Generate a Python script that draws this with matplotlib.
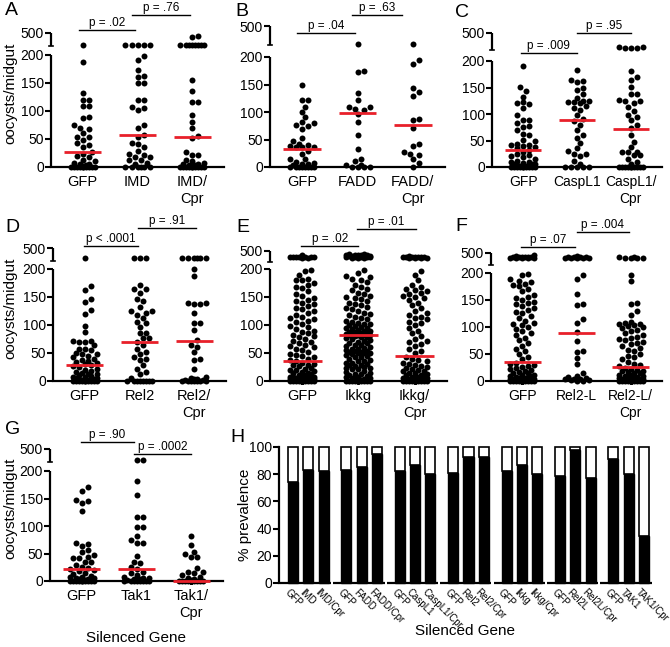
import matplotlib
matplotlib.use('Agg')
import matplotlib.pyplot as plt
import numpy as np

plt.rcParams['font.family'] = ['Liberation Sans', 'DejaVu Sans']

# ---------------- data (oocysts per midgut) ----------------
A_gfp = [230, 188, 132, 120, 120, 109, 109, 90, 88, 75, 70, 68, 60, 54, 54, 48, 42, 39, 36, 27,
         24, 20, 18, 13, 10, 8, 6, 5, 3, 2, 0, 0, 0, 0, 0, 0, 0, 0, 0, 0]
A_imd = [225, 230, 220, 228, 232, 199, 191, 174, 162, 161, 150, 150, 120, 119, 108, 106, 101, 75, 69,
         58, 54, 42, 41, 36, 28, 24, 21, 18, 18, 13, 12, 8, 5, 0, 0, 0, 0, 0, 0]
A_imdcpr = [230, 228, 232, 226, 234, 230, 229, 231, 420, 430, 155, 136, 116, 116, 92, 80, 69, 55, 52,
            27, 22, 22, 12, 10, 8, 6, 5, 4, 3, 2, 0, 0, 0, 0, 0, 0, 0, 0, 0, 0]

B_gfp = [150, 121, 121, 110, 100, 91, 82, 80, 76, 75, 70, 52, 48, 42, 40, 39, 37, 36, 36, 30, 24,
         15, 15, 10, 7, 6, 5, 3, 0, 0, 0, 0, 0, 0, 0, 0]
B_fadd = [205, 174, 172, 135, 122, 110, 109, 106, 103, 97, 82, 58, 33, 15, 11, 4, 4, 0, 0, 0, 0]
B_faddcpr = [215, 195, 188, 144, 136, 129, 88, 85, 71, 41, 38, 27, 24, 22, 15, 8, 0]

C_gfp = [190, 151, 143, 133, 122, 120, 119, 111, 98, 89, 89, 83, 77, 76, 70, 62, 60, 51, 50, 43, 41,
         41, 40, 38, 36, 33, 29, 25, 22, 20, 18, 15, 12, 10, 9, 8, 6, 5, 5, 4, 3, 2, 2, 1,
         0, 0, 0, 0, 0, 0, 0, 0, 0, 0]
C_casp = [183, 165, 163, 160, 149, 145, 137, 130, 125, 124, 123, 122, 120, 116, 111, 108, 98, 90, 86,
          80, 70, 60, 55, 45, 35, 30, 25, 25, 20, 12, 5, 0, 0, 0, 0, 0]
C_caspcpr = [240, 245, 240, 235, 250, 181, 170, 165, 151, 138, 137, 127, 124, 124, 120, 114, 105, 98,
             95, 88, 80, 73, 60, 48, 38, 29, 29, 28, 22, 22, 15, 10, 5, 0, 0, 0, 0, 0, 0, 0, 0, 0, 0]

D_gfp = [260, 170, 163, 147, 141, 127, 119, 99, 88, 71, 71, 70, 69, 64, 58, 58, 55, 50, 49, 49, 45,
         43, 40, 38, 36, 34, 32, 30, 28, 26, 25, 22, 20, 18, 16, 15, 13, 12, 10, 9, 8, 7, 6, 5, 4,
         3, 2, 2, 1, 1, 0, 0, 0, 0, 0, 0, 0, 0, 0, 0]
D_rel2 = [260, 265, 270, 172, 165, 165, 157, 147, 142, 133, 125, 125, 121, 118, 112, 106, 103, 97,
          85, 85, 76, 76, 70, 64, 58, 52, 49, 43, 39, 37, 28, 22, 16, 12, 5, 0, 0, 0, 0, 0, 0, 0, 0]
D_rel2cpr = [260, 262, 258, 260, 265, 258, 200, 187, 140, 139, 137, 137, 121, 103, 103, 91, 73, 65,
             61, 52, 40, 37, 22, 7, 5, 4, 3, 2, 1, 0, 0, 0, 0, 0, 0, 0]

E_gfp = [330, 320, 320, 310, 320, 330, 320, 310, 320, 380,
         198, 197, 190, 183, 181, 181, 175, 172, 168, 166, 160, 155, 152,
         148, 145, 142, 140, 137, 134, 130, 128, 125, 122, 118, 115, 112, 110, 108, 105, 102,
         98, 96, 93, 90, 88, 85, 83, 80, 78, 75, 72, 70, 68, 65, 62, 60, 58, 55, 52,
         48, 46, 44, 42, 40, 38, 36,
         33, 31, 29, 28, 26, 24, 22, 20, 19, 18, 16, 15, 14, 12, 11, 10, 9, 8, 8, 7, 6, 6, 5, 5,
         4, 4, 3, 3, 2, 2, 2, 1, 1, 1, 1] + [0] * 30
E_ikkg = [300, 310, 320, 330, 340, 350, 360, 370, 380, 390, 400, 410, 300, 320, 340, 360, 380, 400, 420, 350,
          198, 192, 188, 185, 182, 180, 176, 172, 168, 165, 162, 158, 155, 152, 150,
          148, 146, 143, 140, 138, 135, 132, 130, 128, 125, 122, 120, 118, 115, 112, 110, 108, 106, 104,
          102, 101, 100,
          98, 97, 95, 94, 92, 91, 90, 89, 88, 87, 86, 85, 84, 84, 83, 83, 82, 82,
          80, 79, 78, 76, 75, 74, 72, 70, 68, 67, 65, 64, 62, 60, 59, 58, 57, 55, 54, 53, 52, 51, 50, 50, 50,
          48, 46, 45, 43, 42, 40, 38, 36, 35, 33, 32, 30, 29, 28, 26, 25, 24, 23, 22, 21,
          18, 16, 15, 13, 12, 10, 9, 8, 7, 6, 5, 4, 3, 2, 1] + [0] * 15
E_ikkgcpr = [310, 320, 330, 300, 340, 320, 310, 330, 350, 320, 300, 330,
             196, 190, 180, 172, 168, 165, 162, 160, 158, 155, 152, 150,
             148, 145, 140, 135, 130, 125, 122, 118, 115, 112, 110, 106, 103, 100,
             95, 90, 85, 80, 75, 72, 70, 66, 62, 58, 54, 50,
             42, 40, 38, 35, 33, 30, 28, 27, 25, 23, 22, 20,
             18, 17, 15, 14, 12, 11, 10, 9, 8, 7, 6, 5, 5, 4, 3, 3, 2, 2, 1, 1] + [0] * 18

F_gfp = [380, 390, 400, 390, 380, 385, 395, 390, 385, 380, 420, 440, 390,
         198, 196, 188, 185, 183, 180, 178, 175, 170, 166, 160, 156, 153, 150,
         147, 145, 142, 138, 135, 132, 128, 125, 120, 116, 112, 108, 105, 103, 100,
         96, 92, 88, 85, 80, 75, 70, 65, 60, 55, 50, 45, 40,
         34, 32, 30, 28, 26, 24, 22, 20, 18, 17, 15, 14, 12, 11, 10, 9, 8, 7, 6, 5, 5, 4, 4, 3, 3,
         2, 2, 1, 1, 1] + [0] * 25
F_rel2l = [380, 400, 420, 390, 385, 370, 395, 380, 410, 385, 197, 189, 161, 142, 141, 115, 107, 90,
           74, 56, 54, 43, 32, 14, 10, 7, 5, 4, 4, 3, 2, 1, 0, 0]
F_rel2lcpr = [380, 385, 390, 380, 385, 390, 197, 186,
              144, 142, 130, 122, 110, 108, 106, 105, 104, 102, 100,
              98, 95, 92, 88, 85, 82, 80, 78, 75, 72, 70, 68, 65, 62, 58, 55, 50, 47, 44, 40, 36, 32, 30, 28,
              24, 22, 20, 19, 18, 16, 15, 14, 12, 11, 10, 9, 8, 7, 6, 5, 5, 4, 4, 3, 3, 2, 2, 1, 1] + [0] * 18

G_gfp = [171, 163, 147, 146, 142, 128, 70, 67, 64, 56, 53, 47, 44, 41, 41, 35, 35, 30, 26, 23, 22,
         20, 18, 15, 12, 10, 8, 7, 6, 5, 4, 3, 2, 1, 0, 0, 0, 0, 0, 0, 0, 0, 0, 0]
G_tak1 = [245, 250, 182, 156, 117, 117, 99, 99, 82, 75, 70, 70, 45, 35, 32, 26, 22, 17, 14, 11, 8,
          6, 5, 4, 3, 2, 1, 0, 0, 0, 0, 0, 0, 0, 0]
G_tak1cpr = [82, 65, 53, 50, 44, 43, 23, 17, 17, 14, 11, 8, 6, 4, 2] + [0] * 20

medians = {
    'A': [27, 58, 53], 'B': [33, 98, 77], 'C': [32, 88, 72], 'D': [29, 70, 72],
    'E': [35, 82, 44], 'F': [36, 89, 26], 'G': [22, 22, 0],
}
groups = {
    'A': ['GFP', 'IMD', 'IMD/\nCpr'], 'B': ['GFP', 'FADD', 'FADD/\nCpr'],
    'C': ['GFP', 'CaspL1', 'CaspL1/\nCpr'], 'D': ['GFP', 'Rel2', 'Rel2/\nCpr'],
    'E': ['GFP', 'Ikkg', 'Ikkg/\nCpr'], 'F': ['GFP', 'Rel2-L', 'Rel2-L/\nCpr'],
    'G': ['GFP', 'Tak1', 'Tak1/\nCpr'],
}
values = {
    'A': [A_gfp, A_imd, A_imdcpr], 'B': [B_gfp, B_fadd, B_faddcpr],
    'C': [C_gfp, C_casp, C_caspcpr], 'D': [D_gfp, D_rel2, D_rel2cpr],
    'E': [E_gfp, E_ikkg, E_ikkgcpr], 'F': [F_gfp, F_rel2l, F_rel2lcpr],
    'G': [G_gfp, G_tak1, G_tak1cpr],
}
pvals = {
    'A': ['p = .02', 'p = .76'], 'B': ['p = .04', 'p = .63'], 'C': ['p = .009', 'p = .95'],
    'D': ['p < .0001', 'p = .91'], 'E': ['p = .02', 'p = .01'], 'F': ['p = .07', 'p = .004'],
    'G': ['p = .90', 'p = .0002'],
}

# panel H: % prevalence (infected fraction)
h_groups = [['GFP', 'IMD', 'IMD/Cpr'], ['GFP', 'FADD', 'FADD/Cpr'], ['GFP', 'CaspL1', 'CaspL1/Cpr'],
            ['GFP', 'Rel2', 'Rel2/Cpr'], ['GFP', 'Ikkg', 'Ikkg/Cpr'], ['GFP', 'Rel2L', 'Rel2L/Cpr'],
            ['GFP', 'TAK1', 'TAK1/Cpr']]
h_prev = [[74, 83, 82], [83, 85, 94.5], [82, 87, 80], [81, 93, 93], [82.5, 87, 80], [79, 97.5, 77],
          [91.5, 80.5, 34.6]]

# ---------------- layout (pixels) ----------------
W, H = 670, 647
fig = plt.figure(figsize=(W / 100, H / 100), dpi=100)

# left, right, y(0), y(200), y(500), bracket y's, letter pos
layout = {
    'A': (51, 224, 167, 55, 33, [(-0.07, 0.95, 30), (0.90, 1.96, 15)], (5, 2)),
    'B': (270, 445, 167, 57, 26, [(-0.09, 0.95, 33), (0.90, 1.80, 15)], (235, 3)),
    'C': (492, 662, 167, 61, 33, [(-0.05, 1.00, 53), (1.00, 2.00, 33)], (455, 4)),
    'D': (53, 226, 381, 269, 248, [(-0.02, 0.98, 246), (0.98, 2.03, 228)], (5, 219)),
    'E': (270, 447, 381, 269, 251, [(-0.02, 1.00, 246), (0.97, 2.03, 229)], (236, 219)),
    'F': (491, 662, 381, 273, 253, [(-0.02, 0.98, 247), (1.00, 1.97, 232)], (455, 218)),
    'G': (50, 223, 581, 471, 449, [(-0.02, 0.95, 442), (0.96, 2.00, 454)], (5, 421)),
}
XL = (-0.58, 2.58)
RED = '#e8202a'
DOT = 6.0  # dot diameter in px


def add_ax(left, right, top, bottom):
    return fig.add_axes([left / W, 1 - bottom / H, (right - left) / W, (bottom - top) / H])


def to_t(v, t500):
    gap = 0.4 * (t500 - 200)
    v = np.asarray(v, float)
    return np.where(v <= 200, v, 200 + gap + (v - 200) / 300 * (t500 - 200 - gap))


def swarm(ypx, d=DOT, half=14):
    order = np.argsort(ypx, kind='stable')
    xs = np.zeros(len(ypx))
    cands = [0.0]
    k = 1
    while k * d / 2 <= half:
        cands += [k * d / 2, -k * d / 2]
        k += 1
    done = []
    for i in order:
        chosen, bestd, bestc = None, -1, 0.0
        for c in cands:
            if done:
                md = min(np.hypot(c - xs[j], ypx[i] - ypx[j]) for j in done)
            else:
                md = 1e9
            if md >= d * 0.95:
                chosen = c
                break
            if md > bestd:
                bestd, bestc = md, c
        xs[i] = chosen if chosen is not None else bestc
        done.append(i)
    return xs


for key, (l, r, y0, y200, y500, brs, lpos) in layout.items():
    ppu = (y0 - y200) / 200.0
    t500 = 200 + (y200 - y500) / ppu
    ax = add_ax(l, r, y500, y0)
    ax.set_xlim(*XL)
    ax.set_ylim(0, t500)
    pxu = (r - l) / (XL[1] - XL[0])
    for i, vals in enumerate(values[key]):
        t = to_t(vals, t500)
        xo = swarm(t * ppu)
        ax.scatter(i + xo / pxu, t, s=18.5, color='black', linewidths=0, clip_on=False, zorder=3)
        m = float(to_t(medians[key][i], t500))
        ax.plot([i - 0.34, i + 0.34], [m, m], color=RED, lw=2.0, zorder=4,
                solid_capstyle='butt', clip_on=False)
    # axes with break
    for s in ['top', 'right', 'left']:
        ax.spines[s].set_visible(False)
    ax.spines['bottom'].set_linewidth(1.6)
    gap = 0.4 * (t500 - 200)
    yt = ax.get_yaxis_transform()
    ax.plot([0, 0], [0, 200], transform=yt, color='black', lw=1.6, clip_on=False,
            solid_capstyle='butt')
    ax.plot([0, 0], [200 + gap, t500], transform=yt, color='black', lw=1.6, clip_on=False,
            solid_capstyle='butt')
    ax.plot([-0.012, 0.012], [200 + gap, 200 + gap], transform=yt, color='black', lw=1.2,
            clip_on=False)
    ax.set_yticks(list(to_t([0, 50, 100, 150, 200, 500], t500)))
    ax.set_yticklabels(['0', '50', '100', '150', '200', '500'])
    ax.tick_params(axis='y', length=4, width=1.5, labelsize=10, pad=1)
    ax.set_xticks([0, 1, 2])
    ax.set_xticklabels(groups[key])
    ax.tick_params(axis='x', length=0, labelsize=10.5 if key not in ('C', 'F') else 10, pad=6)
    if key in ('A', 'D', 'G'):
        ax.set_ylabel('oocysts/midgut', fontsize=11)
        ax.yaxis.set_label_coords((17 - l) / (r - l), 0.55)
    # significance brackets
    for (x0, x1, yb), lab in zip(brs, pvals[key]):
        yf = (y0 - yb) / (y0 - y500)
        ax.plot([x0, x1], [yf, yf], transform=ax.get_xaxis_transform(), color='black', lw=1.0,
                clip_on=False)
        ax.text((x0 + x1) / 2, yf + 0.005, lab, transform=ax.get_xaxis_transform(), ha='center',
                va='bottom', fontsize=8.5)
    fig.text(lpos[0] / W, 1 - lpos[1] / H, key, fontsize=14, ha='left', va='top')

fig.text(136 / W, 1 - 638 / H, 'Silenced Gene', fontsize=11, ha='center', va='center')

# ---------------- panel H ----------------
hl, hr, hy0, hy100 = 279, 660, 583, 447
axh = add_ax(hl, hr, hy100, hy0)
pitch = 3.5
axh.set_xlim(-0.92, 6 * pitch + 2 + 1.05)
axh.set_ylim(0, 100)
for g, (labs, prev) in enumerate(zip(h_groups, h_prev)):
    xs = [g * pitch + i for i in range(3)]
    prev = np.array(prev)
    axh.bar(xs, prev, width=0.66, color='black', edgecolor='black', lw=1.0, clip_on=False)
    axh.bar(xs, 100 - prev, bottom=prev, width=0.66, color='white', edgecolor='black', lw=1.2,
            clip_on=False)
    axh.plot([xs[0] - 0.85, xs[2] + 0.5], [0, 0], color='black', lw=1.6, clip_on=False,
             solid_capstyle='butt')
    for x, lab in zip(xs, labs):
        axh.text(x - 0.2, -3.0, lab, rotation=-45, rotation_mode='anchor', ha='left', va='top',
                 fontsize=7)
for s in ['top', 'right', 'bottom']:
    axh.spines[s].set_visible(False)
axh.spines['left'].set_linewidth(1.6)
axh.set_xticks([])
axh.set_yticks([0, 20, 40, 60, 80, 100])
axh.tick_params(axis='y', length=4, width=1.5, labelsize=10, pad=1)
axh.set_ylabel('% prevalence', fontsize=11)
axh.yaxis.set_label_coords((252 - hl) / (hr - hl), 0.5)
fig.text(230 / W, 1 - 429 / H, 'H', fontsize=14, ha='left', va='top')
fig.text(465 / W, 1 - 631 / H, 'Silenced Gene', fontsize=11, ha='center', va='center')

fig.savefig('out.png', dpi=100)
